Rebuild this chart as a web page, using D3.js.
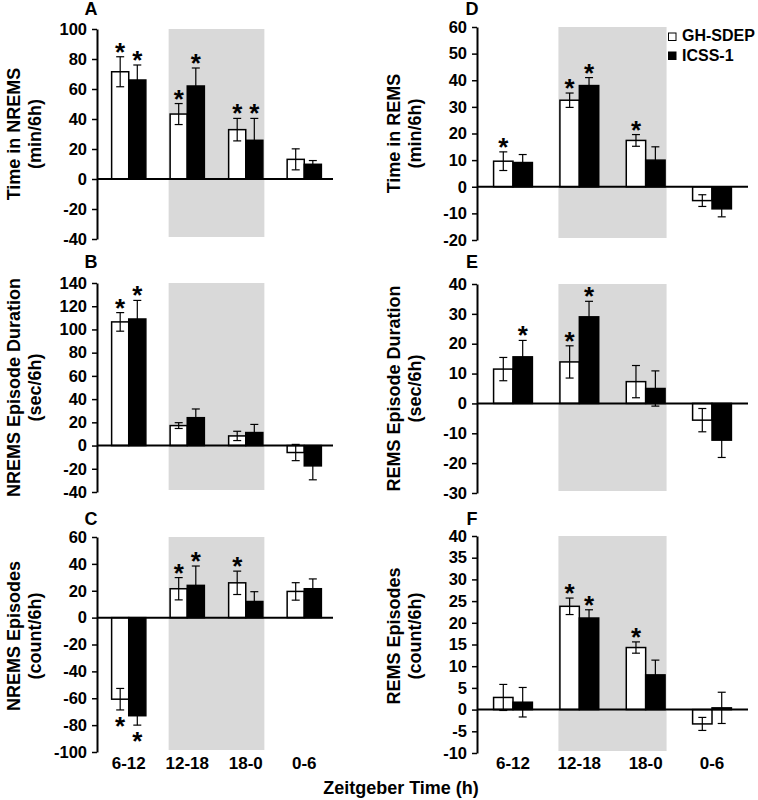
<!DOCTYPE html>
<html>
<head>
<meta charset="utf-8">
<script src="https://cdn.jsdelivr.net/npm/d3@7"></script>
<style>
  html, body { margin: 0; padding: 0; background: #fff; }
  svg { display: block; font-family: "Liberation Sans", Arial, Helvetica, sans-serif; font-weight: bold; }
</style>
</head>
<body>
<svg id="chart" width="758" height="800"></svg>
<script>
// ---------- data ----------
const categories = ["6-12", "12-18", "18-0", "0-6"];
const seriesNames = ["GH-SDEP", "ICSS-1"];

// A: Time in NREMS (min/6h)
const nremsTimeGH = [71.5, 43.3, 32.9, 13.1];
const nremsTimeGHErr = [10, 7, 7.5, 7];
const nremsTimeGHSig = [1, 1, 1, 0];
const nremsTimeICSS = [66, 62, 25.8, 9.8];
const nremsTimeICSSErr = [10, 12, 14.6, 2.5];
const nremsTimeICSSSig = [1, 1, 1, 0];

// B: NREMS Episode Duration (sec/6h)
const nremsDurGH = [106.5, 17.2, 8.3, -6];
const nremsDurGHErr = [8, 2.5, 4, 7];
const nremsDurGHSig = [1, 0, 0, 0];
const nremsDurICSS = [109, 24, 11.2, -17.5];
const nremsDurICSSErr = [16, 7.5, 7, 12];
const nremsDurICSSSig = [1, 0, 0, 0];

// C: NREMS Episodes (count/6h)
const nremsEpGH = [-60.7, 21.5, 25.9, 19.5];
const nremsEpGHErr = [8, 8.3, 8.7, 6.5];
const nremsEpGHSig = [1, 1, 1, 0];
const nremsEpICSS = [-73, 24, 12, 21.5];
const nremsEpICSSErr = [7, 14.4, 7.3, 7.3];
const nremsEpICSSSig = [1, 1, 0, 0];

// D: Time in REMS (min/6h)
const remsTimeGH = [9.6, 32.5, 17.4, -5.2];
const remsTimeGHErr = [3.5, 2.7, 2.2, 2.2];
const remsTimeGHSig = [1, 1, 1, 0];
const remsTimeICSS = [9.1, 38, 10, -8.3];
const remsTimeICSSErr = [3, 3, 5, 3];
const remsTimeICSSSig = [0, 1, 0, 0];

// E: REMS Episode Duration (sec/6h)
const remsDurGH = [11.5, 13.9, 7.3, -5.6];
const remsDurGHErr = [3.9, 5.4, 5.4, 3.9];
const remsDurGHSig = [0, 1, 0, 0];
const remsDurICSS = [15.6, 29, 5, -12.3];
const remsDurICSSErr = [5.5, 5.2, 5.9, 5.8];
const remsDurICSSSig = [1, 1, 0, 0];

// F: REMS Episodes (count/6h)
const remsEpGH = [2.8, 23.8, 14.3, -3.3];
const remsEpGHErr = [3, 1.9, 1.3, 1.5];
const remsEpGHSig = [0, 1, 1, 0];
const remsEpICSS = [1.7, 21.1, 8, 0.4];
const remsEpICSSErr = [3.4, 1.9, 3.4, 3.6];
const remsEpICSSSig = [0, 1, 0, 0];

// y-axis tick labels per panel
const ticksA = [-40, -20, 0, 20, 40, 60, 80, 100];
const ticksB = [-40, -20, 0, 20, 40, 60, 80, 100, 120, 140];
const ticksC = [-100, -80, -60, -40, -20, 0, 20, 40, 60];
const ticksD = [-20, -10, 0, 10, 20, 30, 40, 50, 60];
const ticksE = [-30, -20, -10, 0, 10, 20, 30, 40];
const ticksF = [-10, -5, 0, 5, 10, 15, 20, 25, 30, 35, 40];

const xTitle = "Zeitgeber Time (h)";

// ---------- layout ----------
const columns = [
  { axisX: 97, lineEnd: 333, band: [97, 336], letterX: 91, t1: 20, t2: 41 },
  { axisX: 477, lineEnd: 748, band: [477, 748], letterX: 472, t1: 400, t2: 421 }
];

const panels = [
  { letter: "A", col: 0, top: 29, bottom: 239, letterY: 15, ticks: ticksA, title: ["Time in NREMS", "(min/6h)"],
    gh: nremsTimeGH, ghErr: nremsTimeGHErr, ghSig: nremsTimeGHSig, ic: nremsTimeICSS, icErr: nremsTimeICSSErr, icSig: nremsTimeICSSSig },
  { letter: "B", col: 0, top: 283, bottom: 492, letterY: 268, ticks: ticksB, title: ["NREMS Episode Duration", "(sec/6h)"],
    gh: nremsDurGH, ghErr: nremsDurGHErr, ghSig: nremsDurGHSig, ic: nremsDurICSS, icErr: nremsDurICSSErr, icSig: nremsDurICSSSig },
  { letter: "C", col: 0, top: 537, bottom: 752, letterY: 525, ticks: ticksC, title: ["NREMS Episodes", "(count/6h)"], titleY: 636, xLabels: true,
    gh: nremsEpGH, ghErr: nremsEpGHErr, ghSig: nremsEpGHSig, ic: nremsEpICSS, icErr: nremsEpICSSErr, icSig: nremsEpICSSSig },
  { letter: "D", col: 1, top: 27, bottom: 240, letterY: 15, ticks: ticksD, title: ["Time in REMS", "(min/6h)"], legend: true,
    gh: remsTimeGH, ghErr: remsTimeGHErr, ghSig: remsTimeGHSig, ic: remsTimeICSS, icErr: remsTimeICSSErr, icSig: remsTimeICSSSig },
  { letter: "E", col: 1, top: 284, bottom: 493, letterY: 268, ticks: ticksE, title: ["REMS Episode Duration", "(sec/6h)"],
    gh: remsDurGH, ghErr: remsDurGHErr, ghSig: remsDurGHSig, ic: remsDurICSS, icErr: remsDurICSSErr, icSig: remsDurICSSSig },
  { letter: "F", col: 1, top: 536, bottom: 753, letterY: 525, ticks: ticksF, title: ["REMS Episodes", "(count/6h)"], titleY: 636, xLabels: true,
    gh: remsEpGH, ghErr: remsEpGHErr, ghSig: remsEpGHSig, ic: remsEpICSS, icErr: remsEpICSSErr, icSig: remsEpICSSSig }
];

const svg = d3.select("#chart");
svg.append("rect").attr("width", 758).attr("height", 800).attr("fill", "#fff");

panels.forEach(p => {
  const c = columns[p.col];
  const g = svg.append("g");
  const x0 = d3.scaleBand().domain(categories).range(c.band).paddingInner(0.415).paddingOuter(0.25);
  const x1 = d3.scaleBand().domain(seriesNames).range([0, x0.bandwidth()]);
  const y = d3.scaleLinear().domain(d3.extent(p.ticks)).range([p.bottom, p.top]);

  // dark-phase shading
  g.append("rect")
    .attr("x", x0("12-18") - 1.5)
    .attr("y", p.top)
    .attr("width", x0("18-0") + x0.bandwidth() + 1.5 - (x0("12-18") - 1.5))
    .attr("height", p.bottom - 2 - p.top)
    .attr("fill", "#d9d9d9");

  const rows = [];
  categories.forEach((cat, i) => {
    rows.push({ cat, s: seriesNames[0], v: p.gh[i], e: p.ghErr[i], sig: p.ghSig[i], fill: "#fff" });
    rows.push({ cat, s: seriesNames[1], v: p.ic[i], e: p.icErr[i], sig: p.icSig[i], fill: "#000" });
  });

  // bars
  g.selectAll("rect.bar").data(rows).enter().append("rect")
    .attr("class", "bar")
    .attr("x", d => x0(d.cat) + x1(d.s))
    .attr("width", x1.bandwidth())
    .attr("y", d => Math.min(y(d.v), y(0)))
    .attr("height", d => Math.abs(y(d.v) - y(0)))
    .attr("fill", d => d.fill)
    .attr("stroke", "#000")
    .attr("stroke-width", 1.5);

  // error bars
  const cx = d => x0(d.cat) + x1(d.s) + x1.bandwidth() / 2;
  const eb = g.selectAll("g.err").data(rows).enter().append("g").attr("class", "err")
    .attr("stroke", "#000").attr("stroke-width", 1.2);
  eb.append("line").attr("x1", cx).attr("x2", cx).attr("y1", d => y(d.v - d.e)).attr("y2", d => y(d.v + d.e));
  eb.append("line").attr("x1", d => cx(d) - 4).attr("x2", d => cx(d) + 4).attr("y1", d => y(d.v + d.e)).attr("y2", d => y(d.v + d.e));
  eb.append("line").attr("x1", d => cx(d) - 4).attr("x2", d => cx(d) + 4).attr("y1", d => y(d.v - d.e)).attr("y2", d => y(d.v - d.e));

  // significance stars
  g.selectAll("text.star").data(rows.filter(d => d.sig)).enter().append("text")
    .attr("class", "star")
    .attr("x", cx)
    .attr("y", d => d.v >= 0 ? y(d.v + d.e) + 4 : y(d.v - d.e) + 25)
    .attr("text-anchor", "middle")
    .attr("font-size", 26)
    .text("*");

  // zero line
  g.append("line").attr("x1", c.axisX).attr("x2", c.lineEnd).attr("y1", y(0)).attr("y2", y(0))
    .attr("stroke", "#000").attr("stroke-width", 2);

  // y axis
  const ax = g.append("g").attr("transform", `translate(${c.axisX},0)`)
    .call(d3.axisLeft(y).tickValues(p.ticks).tickFormat(d => String(d)).tickSize(5).tickSizeOuter(0).tickPadding(5));
  ax.select(".domain").attr("stroke-width", 2);
  ax.selectAll(".tick line").attr("stroke-width", 1.5);
  ax.selectAll(".tick text").attr("font-size", 16.5).attr("font-family", null).attr("fill", "#000");

  // y title
  const ty = p.titleY || (p.top + p.bottom) / 2;
  g.append("text").attr("transform", `translate(${c.t1},${ty}) rotate(-90)`)
    .attr("text-anchor", "middle").attr("font-size", 18).text(p.title[0]);
  g.append("text").attr("transform", `translate(${c.t2},${ty}) rotate(-90)`)
    .attr("text-anchor", "middle").attr("font-size", 18).text(p.title[1]);

  // panel letter
  g.append("text").attr("x", c.letterX).attr("y", p.letterY).attr("text-anchor", "middle")
    .attr("font-size", 18).text(p.letter);

  // x labels
  if (p.xLabels) {
    const xa = g.append("g").attr("transform", `translate(0,${769 - 0.71 * 17})`)
      .call(d3.axisBottom(x0).tickSize(0).tickPadding(0));
    xa.select(".domain").remove();
    xa.selectAll(".tick text").attr("font-size", 17).attr("font-family", null).attr("fill", "#000");
  }

  // legend
  if (p.legend) {
    const lg = g.append("g");
    seriesNames.forEach((s, i) => {
      lg.append("rect").attr("x", 668.5).attr("y", 33 + i * 19).attr("width", 7.5).attr("height", 7.5)
        .attr("fill", i === 0 ? "#fff" : "#000").attr("stroke", "#000").attr("stroke-width", 1);
      lg.append("text").attr("x", 682).attr("y", 41 + i * 20).attr("font-size", 16).text(s);
    });
  }
});

svg.append("text").attr("x", 401).attr("y", 794).attr("text-anchor", "middle")
  .attr("font-size", 18).text(xTitle);
</script>
</body>
</html>
